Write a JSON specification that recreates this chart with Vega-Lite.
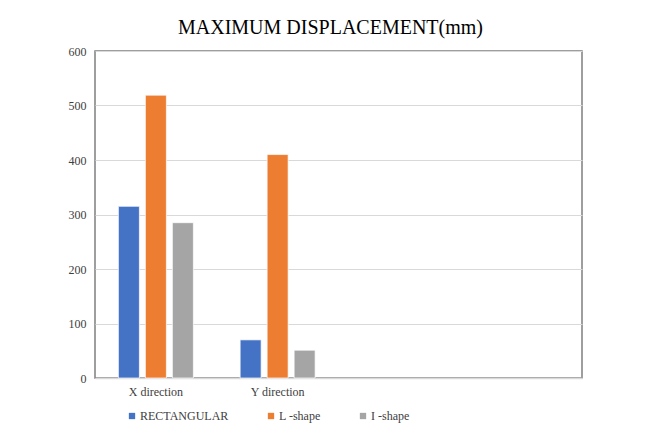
{
  "$schema": "https://vega.github.io/schema/vega-lite/v6.json",
  "width": 487,
  "height": 327,
  "autosize": "none",
  "padding": {"left": 95, "top": 51, "right": 67, "bottom": 49},
  "background": "white",
  "title": {
    "text": "MAXIMUM DISPLACEMENT(mm)",
    "font": "Liberation Serif",
    "fontSize": 20,
    "fontWeight": "normal",
    "color": "#000000",
    "anchor": "middle",
    "frame": "group",
    "baseline": "alphabetic",
    "dx": -8,
    "offset": -9
  },
  "data": {
    "values": [
      {"direction": "X direction", "shape": "RECTANGULAR", "value": 315},
      {"direction": "X direction", "shape": "L -shape", "value": 519},
      {"direction": "X direction", "shape": "I -shape", "value": 285},
      {"direction": "Y direction", "shape": "RECTANGULAR", "value": 70},
      {"direction": "Y direction", "shape": "L -shape", "value": 410},
      {"direction": "Y direction", "shape": "I -shape", "value": 51}
    ]
  },
  "mark": {"type": "bar", "stroke": "#ffffff", "strokeWidth": 1, "strokeOpacity": 0.7},
  "encoding": {
    "x": {
      "field": "direction",
      "type": "nominal",
      "scale": {"domain": ["X direction", "Y direction", " ", "  "], "paddingInner": 0, "paddingOuter": 0},
      "axis": {
        "title": null,
        "labelAngle": 0,
        "labelFont": "Liberation Serif",
        "labelFontSize": 12,
        "labelColor": "#404040",
        "labelPadding": 8,
        "ticks": false,
        "domainColor": "#d9d9d9",
        "domainWidth": 1.5
      }
    },
    "xOffset": {
      "field": "shape",
      "type": "nominal",
      "sort": ["RECTANGULAR", "L -shape", "I -shape"],
      "scale": {"paddingInner": 0.222, "paddingOuter": 0.866}
    },
    "y": {
      "field": "value",
      "type": "quantitative",
      "scale": {"domain": [0, 600], "nice": false},
      "axis": {
        "title": null,
        "values": [0, 100, 200, 300, 400, 500, 600],
        "labelOverlap": false,
        "labelFont": "Liberation Serif",
        "labelFontSize": 12,
        "labelColor": "#404040",
        "labelPadding": 9,
        "ticks": false,
        "domain": false,
        "gridColor": "#d9d9d9",
        "gridWidth": 1
      }
    },
    "color": {
      "field": "shape",
      "type": "nominal",
      "sort": ["RECTANGULAR", "L -shape", "I -shape"],
      "scale": {"domain": ["RECTANGULAR", "L -shape", "I -shape"], "range": ["#4472C4", "#ED7D31", "#A5A5A5"]},
      "legend": {
        "title": null,
        "orient": "none",
        "direction": "horizontal",
        "legendX": 31,
        "legendY": 359,
        "symbolType": "square",
        "symbolSize": 40,
        "symbolStrokeWidth": 0,
        "labelFont": "Liberation Serif",
        "labelFontSize": 12,
        "labelColor": "#404040",
        "labelOffset": 2,
        "columnPadding": 36
      }
    }
  },
  "config": {
    "view": {"stroke": "#7f7f7f", "strokeWidth": 1.5}
  }
}
